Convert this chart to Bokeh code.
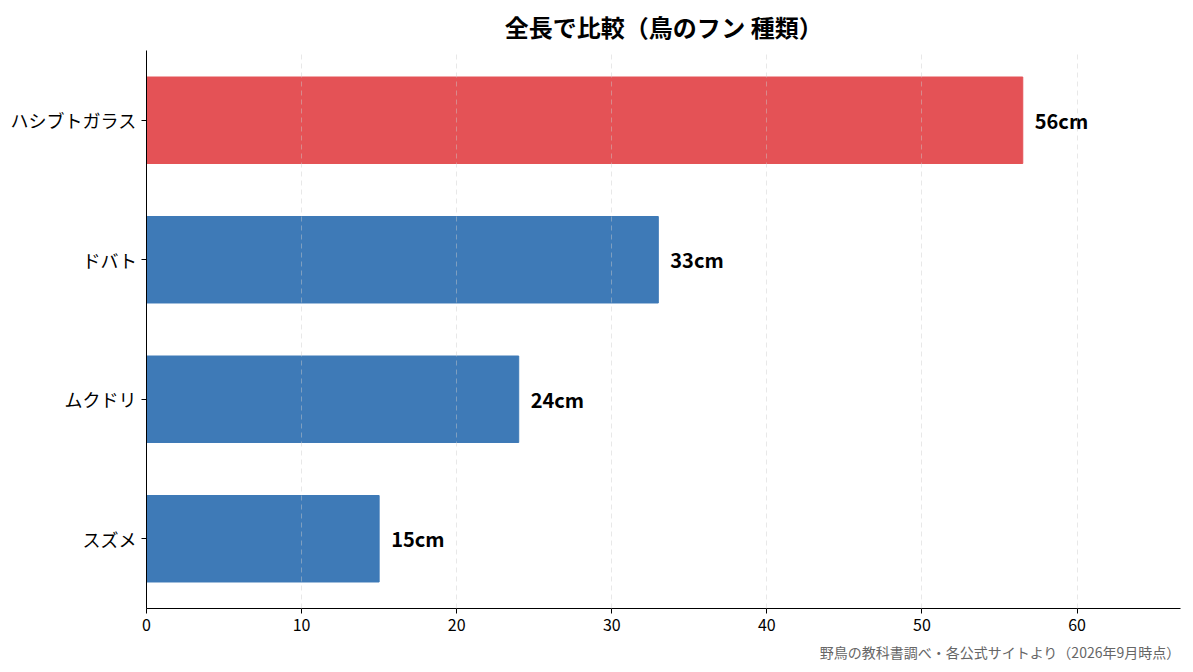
from bokeh.plotting import figure
from bokeh.models import ColumnDataSource, Range1d, Title, SingleIntervalTicker
from bokeh.embed import file_html
from bokeh.resources import INLINE

# Data
birds = ["ハシブトガラス", "ドバト", "ムクドリ", "スズメ"]
lengths = [56.5, 33, 24, 15]
labels = ["56cm", "33cm", "24cm", "15cm"]
colors = ["#e45256", "#3e7ab7", "#3e7ab7", "#3e7ab7"]

source = ColumnDataSource(dict(bird=birds, length=lengths, label=labels, color=colors))

p = figure(
    y_range=list(reversed(birds)),
    x_range=Range1d(0, max(lengths) * 1.18),
    frame_width=1034,
    frame_height=558,
    min_border_left=146,
    min_border_right=5,
    min_border_top=50,
    toolbar_location=None,
    tools="",
    output_backend="svg",
)

p.hbar(y="bird", right="length", height=0.62, color="color", fill_alpha=1.0, source=source)

p.text(
    x="length", y="bird", text="label", source=source,
    x_offset=12, text_align="left", text_baseline="middle",
    text_font_size="15pt", text_font_style="bold", text_color="#000000",
    text_font={"value": "Noto Sans CJK JP"},
)

# Title
p.title.text = "全長で比較（鳥のフン 種類）"
p.title.align = "center"
p.title.vertical_align = "top"
p.title.text_font = "Noto Sans CJK JP"
p.title.text_font_size = "18pt"
p.title.text_font_style = "bold"
p.title.text_color = "#000000"

# Source note
p.add_layout(Title(
    text="野鳥の教科書調べ・各公式サイトより（2026年9月時点）",
    align="right", text_font="Noto Sans CJK JP", text_font_size="10.5pt",
    text_font_style="normal", text_color="#666666", standoff=12,
), "below")

# Axes
p.xaxis.ticker = SingleIntervalTicker(interval=10)
p.xaxis.minor_tick_line_color = None
p.xaxis.major_label_text_font = "Noto Sans CJK JP"
p.xaxis.major_label_text_font_size = "12pt"
p.xaxis.major_label_text_color = "#000000"
p.xaxis.axis_line_color = "#000000"
p.xaxis.major_tick_line_color = "#000000"
p.xaxis.major_tick_out = 5
p.xaxis.major_tick_in = 0

p.yaxis.major_label_text_font = "Noto Sans CJK JP"
p.yaxis.major_label_text_font_size = "13.5pt"
p.yaxis.major_label_text_color = "#000000"
p.yaxis.axis_line_color = "#000000"
p.yaxis.major_tick_line_color = "#000000"
p.yaxis.major_tick_out = 5
p.yaxis.major_tick_in = 0

# Grid & style
p.ygrid.grid_line_color = None
p.xgrid.grid_line_color = "#cccccc"
p.xgrid.grid_line_alpha = 0.45
p.xgrid.grid_line_dash = "5 4"
p.xgrid.level = "overlay"
p.outline_line_color = None
p.background_fill_color = "white"

open("out.html", "w").write(file_html(p, INLINE))
